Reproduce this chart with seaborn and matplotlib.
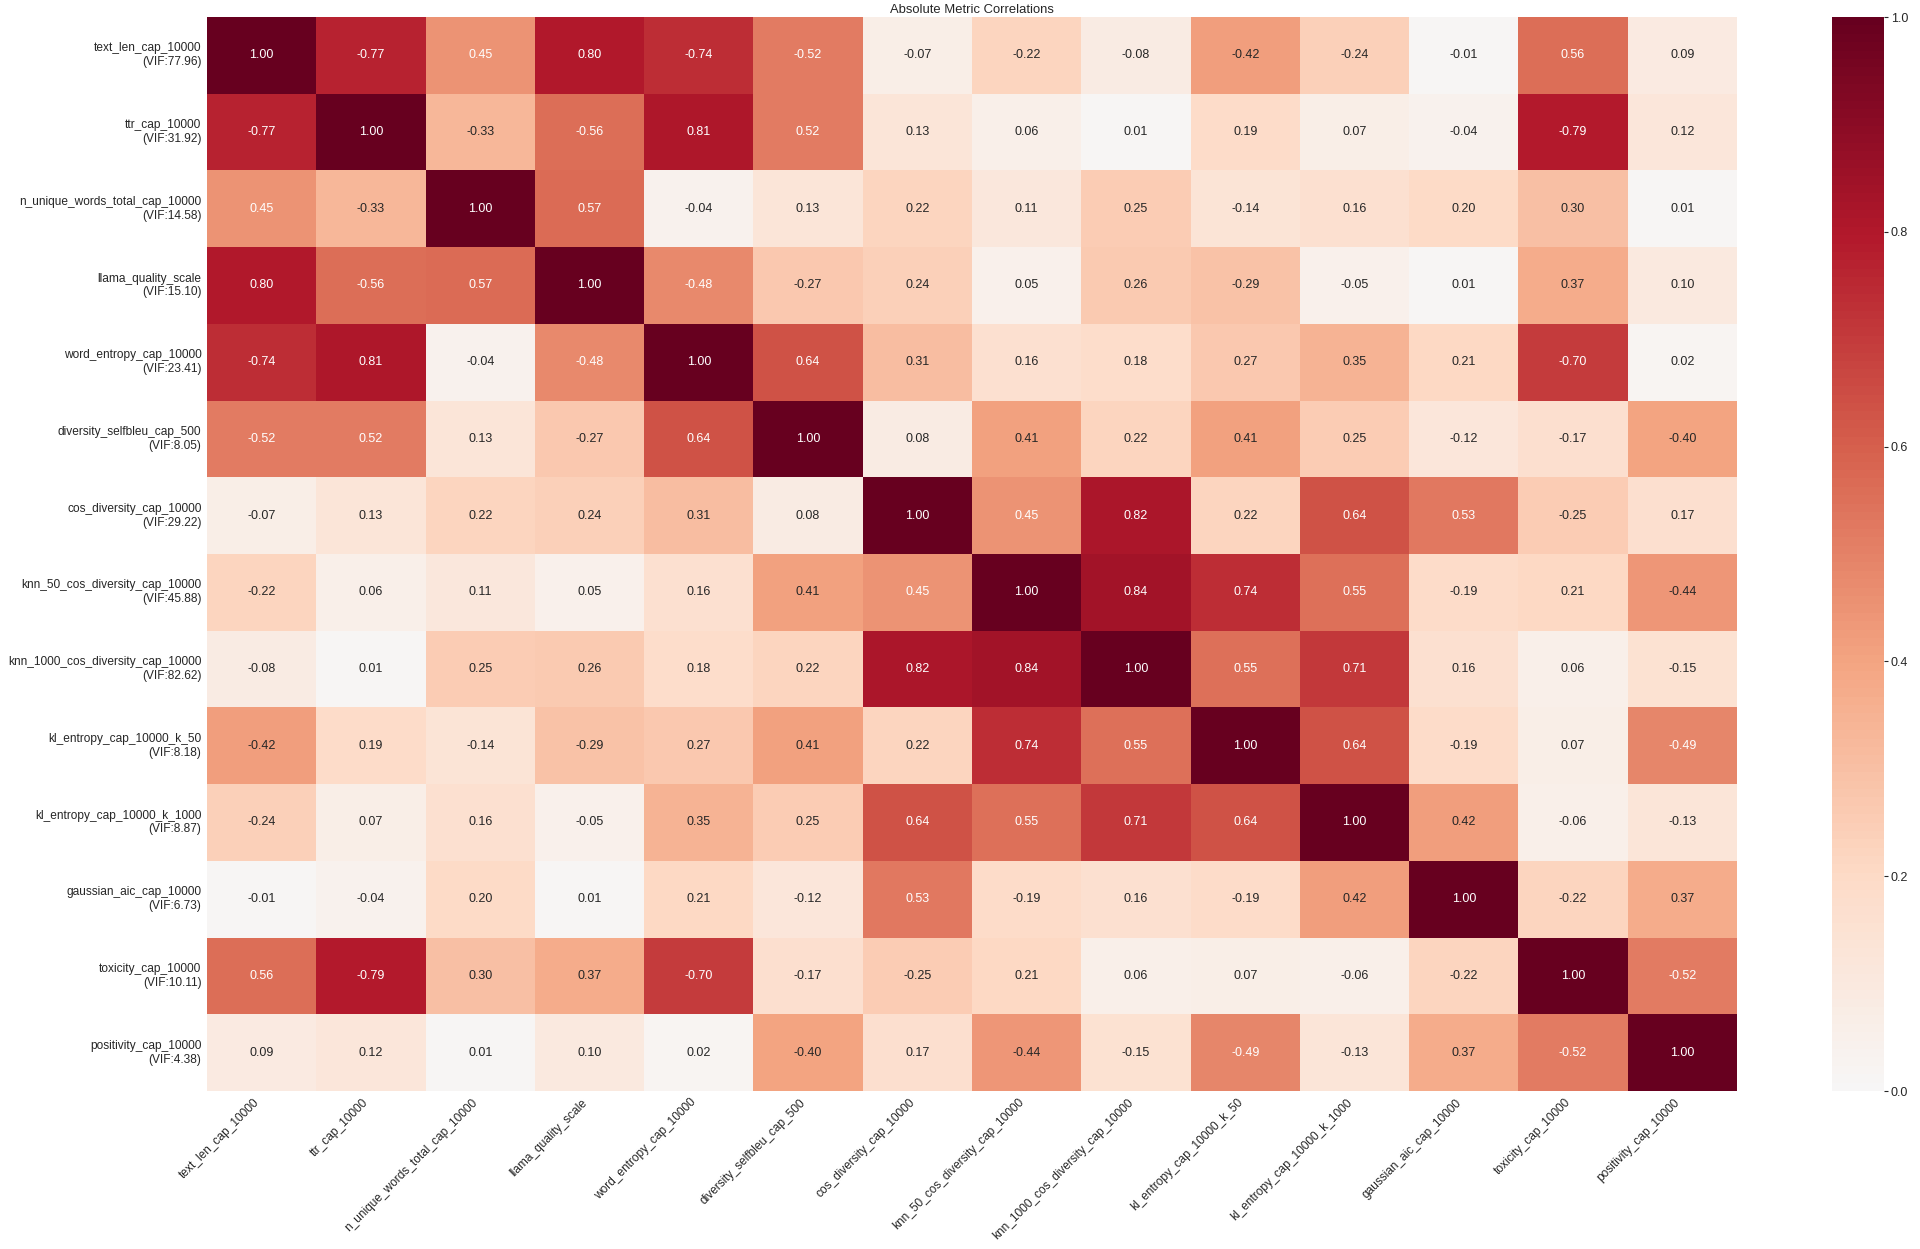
import matplotlib
matplotlib.use("Agg")
import matplotlib.pyplot as plt
import numpy as np
import pandas as pd
import seaborn as sns

# Metric names and VIF values
metrics = ['text_len_cap_10000', 'ttr_cap_10000', 'n_unique_words_total_cap_10000',
           'llama_quality_scale', 'word_entropy_cap_10000', 'diversity_selfbleu_cap_500',
           'cos_diversity_cap_10000', 'knn_50_cos_diversity_cap_10000',
           'knn_1000_cos_diversity_cap_10000', 'kl_entropy_cap_10000_k_50',
           'kl_entropy_cap_10000_k_1000', 'gaussian_aic_cap_10000',
           'toxicity_cap_10000', 'positivity_cap_10000']
vif = [77.96, 31.92, 14.58, 15.10, 23.41, 8.05, 29.22, 45.88, 82.62, 8.18, 8.87, 6.73, 10.11, 4.38]

# Correlation matrix (signed), one list per row
r_text_len = [1.00, -0.77, 0.45, 0.80, -0.74, -0.52, -0.07, -0.22, -0.08, -0.42, -0.24, -0.01, 0.56, 0.09]
r_ttr = [-0.77, 1.00, -0.33, -0.56, 0.81, 0.52, 0.13, 0.06, 0.01, 0.19, 0.07, -0.04, -0.79, 0.12]
r_n_unique = [0.45, -0.33, 1.00, 0.57, -0.04, 0.13, 0.22, 0.11, 0.25, -0.14, 0.16, 0.20, 0.30, 0.01]
r_llama = [0.80, -0.56, 0.57, 1.00, -0.48, -0.27, 0.24, 0.05, 0.26, -0.29, -0.05, 0.01, 0.37, 0.10]
r_word_entropy = [-0.74, 0.81, -0.04, -0.48, 1.00, 0.64, 0.31, 0.16, 0.18, 0.27, 0.35, 0.21, -0.70, 0.02]
r_selfbleu = [-0.52, 0.52, 0.13, -0.27, 0.64, 1.00, 0.08, 0.41, 0.22, 0.41, 0.25, -0.12, -0.17, -0.40]
r_cos_div = [-0.07, 0.13, 0.22, 0.24, 0.31, 0.08, 1.00, 0.45, 0.82, 0.22, 0.64, 0.53, -0.25, 0.17]
r_knn_50 = [-0.22, 0.06, 0.11, 0.05, 0.16, 0.41, 0.45, 1.00, 0.84, 0.74, 0.55, -0.19, 0.21, -0.44]
r_knn_1000 = [-0.08, 0.01, 0.25, 0.26, 0.18, 0.22, 0.82, 0.84, 1.00, 0.55, 0.71, 0.16, 0.06, -0.15]
r_kl_50 = [-0.42, 0.19, -0.14, -0.29, 0.27, 0.41, 0.22, 0.74, 0.55, 1.00, 0.64, -0.19, 0.07, -0.49]
r_kl_1000 = [-0.24, 0.07, 0.16, -0.05, 0.35, 0.25, 0.64, 0.55, 0.71, 0.64, 1.00, 0.42, -0.06, -0.13]
r_gauss = [-0.01, -0.04, 0.20, 0.01, 0.21, -0.12, 0.53, -0.19, 0.16, -0.19, 0.42, 1.00, -0.22, 0.37]
r_toxicity = [0.56, -0.79, 0.30, 0.37, -0.70, -0.17, -0.25, 0.21, 0.06, 0.07, -0.06, -0.22, 1.00, -0.52]
r_positivity = [0.09, 0.12, 0.01, 0.10, 0.02, -0.40, 0.17, -0.44, -0.15, -0.49, -0.13, 0.37, -0.52, 1.00]

rows = [r_text_len, r_ttr, r_n_unique, r_llama, r_word_entropy, r_selfbleu, r_cos_div,
        r_knn_50, r_knn_1000, r_kl_50, r_kl_1000, r_gauss, r_toxicity, r_positivity]

sns.set_style('white')
plt.rcParams['font.family'] = ['Liberation Sans', 'DejaVu Sans']
plt.rcParams['text.color'] = '#262626'
plt.rcParams['xtick.color'] = '#262626'
plt.rcParams['ytick.color'] = '#262626'

corr = pd.DataFrame(rows, index=metrics, columns=metrics)
ylabels = [f'{m}\n(VIF:{v:.2f})' for m, v in zip(metrics, vif)]

fig = plt.figure(figsize=(19.2, 12.49), dpi=100)
ax = fig.add_axes([207 / 1920, 1 - 1091 / 1249, 1530 / 1920, 1074 / 1249])
cax = fig.add_axes([1832 / 1920, 1 - 1091 / 1249, 52 / 1920, 1074 / 1249])

# colour by absolute value, annotate with the signed value
sns.heatmap(corr.abs(), annot=corr.values, fmt='.2f', cmap='RdBu_r', center=0,
            vmin=0, vmax=1, ax=ax, cbar_ax=cax, annot_kws={'size': 9})

ax.set_title('Absolute Metric Correlations', fontsize=9.4, pad=3)
ax.set_yticklabels(ylabels, rotation=0, ha='right', fontsize=8.6)
ax.set_xticklabels(metrics, rotation=45, ha='right', fontsize=8.6)
ax.tick_params(axis='both', length=0, pad=4)
cax.tick_params(labelsize=9, length=3, width=0.8, pad=2)

fig.savefig('out.png', dpi=100)
